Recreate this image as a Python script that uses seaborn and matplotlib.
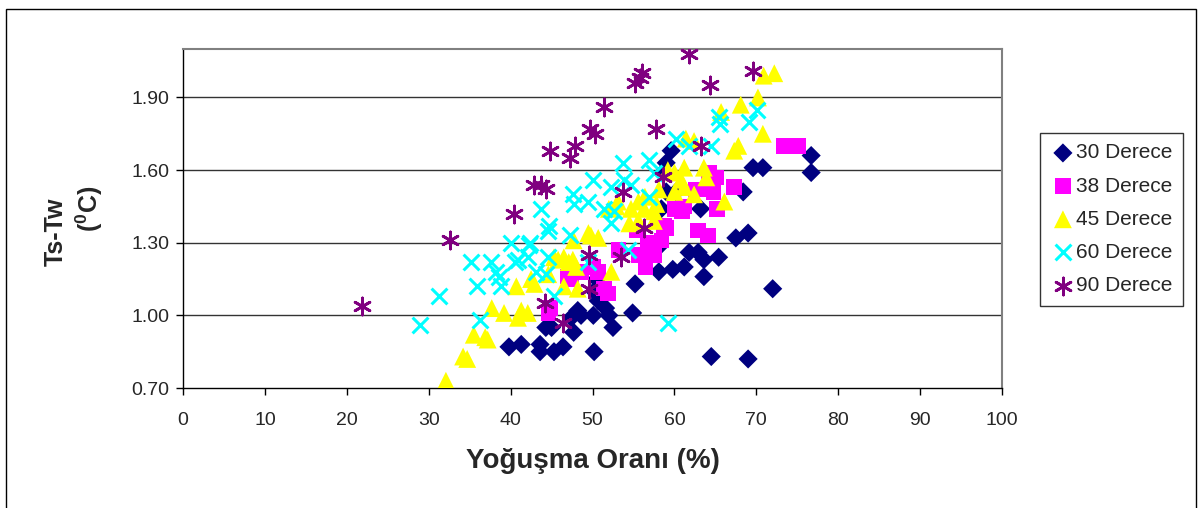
import matplotlib
matplotlib.use("Agg")
import matplotlib.pyplot as plt
from matplotlib.patches import Rectangle
import seaborn as sns
import pandas as pd

sns.set_style("white")
plt.rcParams['font.family'] = ['Liberation Sans', 'DejaVu Sans']
plt.rcParams['mathtext.fontset'] = 'custom'
plt.rcParams['mathtext.rm'] = 'Liberation Sans'
plt.rcParams['mathtext.bf'] = 'Liberation Sans:bold'

# Condensation ratio (%) and surface-wall temperature difference (°C) per inclination
x_30 = [39.8, 41.3, 43.6, 43.6, 44.3, 45.0, 45.3, 46.4, 47.7, 47.4, 48.2, 48.6,
        50.1, 50.7, 51.6, 52.0, 50.2, 52.5, 54.9, 50.2, 51.4, 55.2, 58.1, 59.8,
        61.2, 58.0, 61.8, 62.9, 63.6, 65.4, 63.6, 67.5, 69.0, 72.0, 64.5, 69.0,
        59.6, 59.0, 58.6, 59.0, 60.2, 58.4, 63.2, 68.4, 69.6, 70.8, 76.7, 76.7,
        50.5]
y_30 = [0.87, 0.88, 0.88, 0.85, 0.95, 0.95, 0.85, 0.87, 0.93, 0.99, 1.02, 1.00,
        1.00, 1.06, 1.03, 1.00, 0.85, 0.95, 1.01, 1.10, 1.10, 1.13, 1.18, 1.19,
        1.20, 1.28, 1.26, 1.26, 1.23, 1.24, 1.16, 1.32, 1.34, 1.11, 0.83, 0.82,
        1.68, 1.63, 1.59, 1.51, 1.51, 1.44, 1.44, 1.51, 1.61, 1.61, 1.66, 1.59,
        1.15]

x_38 = [44.6, 44.9, 47.0, 47.4, 48.6, 50.1, 50.7, 51.4, 51.9, 53.2, 55.4, 55.7,
        56.5, 56.8, 57.5, 58.4, 58.7, 59.0, 60.0, 61.2, 62.9, 64.1, 64.2, 65.1,
        64.0, 64.8, 65.2, 67.3, 73.3, 75.1, 62.6, 60.9]
y_38 = [1.01, 1.03, 1.16, 1.15, 1.18, 1.20, 1.18, 1.11, 1.09, 1.27, 1.35, 1.25,
        1.20, 1.30, 1.25, 1.31, 1.37, 1.36, 1.44, 1.45, 1.35, 1.33, 1.59, 1.57,
        1.52, 1.51, 1.44, 1.53, 1.70, 1.70, 1.52, 1.43]

x_45 = [32.1, 34.2, 34.7, 35.5, 36.9, 37.2, 37.7, 39.2, 40.7, 40.9, 41.3, 42.1,
        42.5, 42.9, 45.3, 45.8, 46.5, 47.1, 47.6, 48.0, 46.5, 48.2, 49.5, 49.8,
        50.7, 52.3, 54.5, 55.6, 57.5, 52.0, 53.1, 54.7, 55.6, 56.3, 57.8, 59.2,
        60.0, 61.2, 60.8, 60.0, 61.2, 62.4, 57.5, 63.6, 63.9, 61.4, 62.4, 65.7,
        66.1, 67.3, 67.8, 68.1, 70.2, 70.8, 70.9, 72.2, 58.1, 56.4, 44.6, 47.7,
        52.9]
y_45 = [0.73, 0.83, 0.82, 0.92, 0.91, 0.90, 1.03, 1.01, 1.12, 0.99, 1.02, 1.01,
        1.15, 1.13, 1.24, 1.23, 1.24, 1.22, 1.23, 1.20, 1.12, 1.11, 1.34, 1.33,
        1.32, 1.18, 1.38, 1.39, 1.39, 1.44, 1.47, 1.44, 1.47, 1.44, 1.46, 1.60,
        1.59, 1.61, 1.56, 1.51, 1.53, 1.50, 1.43, 1.61, 1.57, 1.73, 1.72, 1.84,
        1.47, 1.68, 1.70, 1.87, 1.90, 1.75, 1.99, 2.00, 1.52, 1.49, 1.17, 1.31,
        1.45]

x_60 = [28.9, 31.2, 35.2, 35.9, 36.3, 37.6, 38.2, 38.6, 38.8, 40.1, 40.5, 40.9,
        42.2, 42.4, 42.1, 43.1, 44.3, 44.6, 44.6, 45.3, 43.7, 44.7, 47.6, 47.7,
        49.5, 50.1, 51.4, 52.3, 52.3, 52.6, 53.7, 53.8, 54.7, 56.9, 57.5, 56.9,
        54.3, 59.2, 60.2, 61.8, 64.5, 65.4, 65.6, 69.1, 70.1, 49.4, 47.2]
y_60 = [0.96, 1.08, 1.22, 1.12, 0.98, 1.22, 1.18, 1.16, 1.12, 1.30, 1.22, 1.23,
        1.29, 1.30, 1.24, 1.18, 1.17, 1.24, 1.35, 1.08, 1.44, 1.37, 1.50, 1.46,
        1.47, 1.56, 1.44, 1.53, 1.38, 1.43, 1.63, 1.56, 1.54, 1.64, 1.59, 1.49,
        1.27, 0.97, 1.73, 1.70, 1.70, 1.82, 1.79, 1.80, 1.85, 1.22, 1.33]

x_90 = [21.9, 32.6, 40.4, 42.9, 43.7, 44.3, 44.8, 47.3, 47.9, 49.7, 50.3, 51.4,
        55.2, 55.8, 56.0, 57.8, 61.8, 64.3, 69.6, 63.2, 58.6, 53.7, 56.3, 53.5,
        49.6, 49.6, 44.2, 46.4]
y_90 = [1.04, 1.31, 1.42, 1.54, 1.54, 1.52, 1.68, 1.65, 1.70, 1.77, 1.75, 1.86,
        1.96, 1.98, 2.00, 1.77, 2.08, 1.95, 2.01, 1.70, 1.57, 1.51, 1.36, 1.24,
        1.25, 1.11, 1.05, 0.97]

series_labels = ["30 Derece", "38 Derece", "45 Derece", "60 Derece", "90 Derece"]
x_ticks = [0, 10, 20, 30, 40, 50, 60, 70, 80, 90, 100]
y_ticks = [0.70, 1.00, 1.30, 1.60, 1.90]

fig = plt.figure(figsize=(12, 5.08), dpi=100)
ax = fig.add_axes([0.1525, 0.2362, 0.6825, 0.6673])

styles = [
    dict(x=x_30, y=y_30, marker="D", color="#000080", s=95, edgecolor="none"),
    dict(x=x_38, y=y_38, marker="s", color="#FF00FF", s=125, edgecolor="none"),
    dict(x=x_45, y=y_45, marker="^", color="#FFFF00", s=165, edgecolor="none"),
    dict(x=x_60, y=y_60, marker="x", color="#00FFFF", s=130, linewidth=2.2),
    dict(x=x_90, y=y_90, marker=(6, 2, 0), color="#800080", s=150, linewidth=2.0),
]
for i, (st, lab) in enumerate(zip(styles, series_labels)):
    df = pd.DataFrame({"x": st.pop("x"), "y": st.pop("y")})
    sns.scatterplot(data=df, x="x", y="y", ax=ax, label=lab, zorder=3 + i, **st)

ax.set_xlim(0, 100)
ax.set_ylim(0.70, 2.10)
ax.set_xticks(x_ticks)
ax.set_yticks(y_ticks)
ax.set_yticklabels([f"{v:.2f}" for v in y_ticks])
ax.tick_params(axis="both", direction="out", length=5, width=1, color="black",
               labelsize=14, bottom=True, left=True)
ax.tick_params(axis="x", pad=12)
ax.tick_params(axis="y", pad=5)
for yv in y_ticks[1:]:
    ax.axhline(yv, color="#333333", lw=1, zorder=1)

for side in ("top", "right"):
    ax.spines[side].set_color("#808080")
    ax.spines[side].set_linewidth(1.5)
for side in ("left", "bottom"):
    ax.spines[side].set_color("black")
    ax.spines[side].set_linewidth(1)

ax.set_xlabel("Yoğuşma Oranı (%)", fontsize=20, fontweight="bold", labelpad=14)
ax.set_ylabel("")
fig.text(56 / 1200, 1 - 232 / 508, "Ts-Tw", rotation=90, ha="center", va="center",
         fontsize=18, fontweight="bold")
fig.text(89 / 1200, 1 - 209 / 508, r"($\mathbf{^{0}}$C)", rotation=90, ha="center",
         va="center", fontsize=18, fontweight="bold")

leg = ax.legend(loc="upper left", bbox_to_anchor=(1040 / 1200, 1 - 133 / 508),
                bbox_transform=fig.transFigure,
                frameon=True, fancybox=False, edgecolor="black", fontsize=15,
                handletextpad=0.05, handlelength=1.2, borderpad=0.5, labelspacing=0.68,
                borderaxespad=0)
leg.get_frame().set_linewidth(1)

fig.patches.append(Rectangle((0.005, -0.01), 0.992, 0.992, transform=fig.transFigure,
                             fill=False, edgecolor="black", linewidth=1))

fig.savefig("out.png", dpi=100)
